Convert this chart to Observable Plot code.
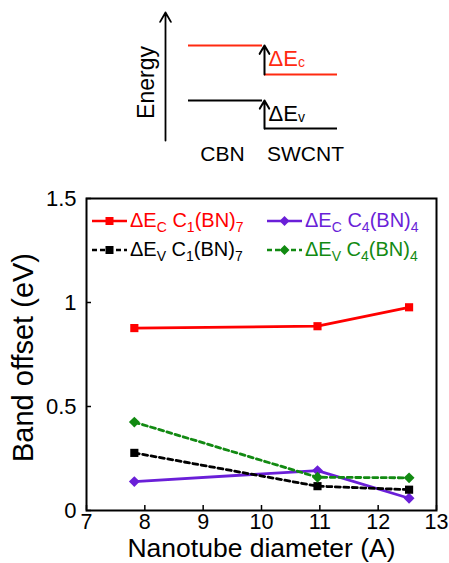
<!DOCTYPE html>
<html>
<head>
<meta charset="utf-8">
<script src="https://cdn.jsdelivr.net/npm/d3@7"></script>
<script src="https://cdn.jsdelivr.net/npm/@observablehq/plot@0.6"></script>
<style>
  html, body { margin: 0; padding: 0; background: #fff; }
  #wrap { position: relative; width: 449px; height: 563px; font-family: "Liberation Sans", Arial, sans-serif; }
  #wrap svg { display: block; }
  #legend { position: absolute; left: 92px; top: 206px; font-size: 20px; line-height: 29px; }
  .row { display: flex; align-items: center; height: 29px; white-space: nowrap; }
  .item { display: flex; align-items: center; }
  .item svg { display: inline-block; margin-right: 3px; }
  .item sub { font-size: 14px; vertical-align: -5px; line-height: 0; }
</style>
</head>
<body>
<div id="wrap"></div>
<script>
// ---- main chart data ----
const diameters = [7.82, 10.96, 12.53];
const dEcC1 = [0.877, 0.886, 0.977];
const dEcC4 = [0.139, 0.192, 0.059];
const dEvC1 = [0.277, 0.117, 0.100];
const dEvC4 = [0.425, 0.160, 0.157];
const xTicks = [7, 8, 9, 10, 11, 12, 13];
const yTicks = [0, 0.5, 1, 1.5];
const xLabel = "Nanotube diameter (A)";
const yLabel = "Band offset (eV)";

const seriesDefs = [
  {key: "EcC1", values: dEcC1, color: "#ff0000", dash: null, symbol: "square", band: "C", comp: ["1", "7"]},
  {key: "EcC4", values: dEcC4, color: "#6a1fd8", dash: null, symbol: "diamond2", band: "C", comp: ["4", "4"]},
  {key: "EvC1", values: dEvC1, color: "#000000", dash: "5,3.5", symbol: "square", band: "V", comp: ["1", "7"]},
  {key: "EvC4", values: dEvC4, color: "#128a12", dash: "5,3.5", symbol: "diamond2", band: "V", comp: ["4", "4"]}
];

// ---- inset (energy diagram) data ----
const insetLevels = [
  {side: "CBN", band: "c", x1: 188, x2: 262, e: 95},
  {side: "SWCNT", band: "c", x1: 264, x2: 337, e: 66},
  {side: "CBN", band: "v", x1: 188, x2: 262, e: 40},
  {side: "SWCNT", band: "v", x1: 264, x2: 337, e: 12}
];
const insetLabels = [{text: "CBN", x: 222}, {text: "SWCNT", x: 305}];
const bandColor = {c: "#ff2a10", v: "#000000"};

const font = '"Liberation Sans", Arial, sans-serif';
const wrap = document.getElementById("wrap");

// Inset plot
const cb = insetLevels.filter(d => d.band === "c");
const vb = insetLevels.filter(d => d.band === "v");
const offsets = [
  {x: 264, from: cb[1].e, to: cb[0].e, band: "c", label: "ΔE|c"},
  {x: 264, from: vb[1].e, to: vb[0].e, band: "v", label: "ΔE|v"}
];
const inset = Plot.plot({
  width: 449, height: 170,
  marginTop: 0, marginBottom: 0, marginLeft: 0, marginRight: 0,
  style: {fontFamily: font, background: "transparent"},
  x: {domain: [0, 449], axis: null},
  y: {domain: [0, 128], range: [140, 12], axis: null},
  marks: [
    Plot.arrow([0], {x1: 165, x2: 165, y1: 0, y2: 128, stroke: "#000", strokeWidth: 1.8, headLength: 9, bend: 0}),
    Plot.text(["Energy"], {x: 146, y: 58, rotate: -90, fontSize: 23, fill: "#000", textAnchor: "middle"}),
    Plot.ruleY(insetLevels, {x1: "x1", x2: "x2", y: "e", stroke: d => bandColor[d.band], strokeWidth: 1.8}),
    Plot.arrow(offsets, {x1: "x", x2: "x", y1: "from", y2: "to", stroke: "#000", strokeWidth: 2, headLength: 8, bend: 0, insetEnd: 0}),
    Plot.text(offsets, {x: d => d.x + 4, y: d => d.to - 20, text: "label", fill: d => bandColor[d.band], fontSize: 22, textAnchor: "start", lineAnchor: "bottom"}),
    Plot.text(insetLabels, {x: "x", y: -20, text: "text", fontSize: 21, fill: "#000", lineAnchor: "bottom"})
  ]
});
// subscripts in inset labels
inset.querySelectorAll("text").forEach(t => {
  const s = t.textContent;
  if (s.includes("|")) {
    const [a, b] = s.split("|");
    t.textContent = "";
    const ns = "http://www.w3.org/2000/svg";
    const t1 = document.createElementNS(ns, "tspan"); t1.textContent = a;
    const t2 = document.createElementNS(ns, "tspan"); t2.textContent = b;
    t2.setAttribute("font-size", "14"); t2.setAttribute("dy", "1");
    t.appendChild(t1); t.appendChild(t2);
  }
});
wrap.appendChild(inset);

// Main plot
const rows = seriesDefs.flatMap(s => diameters.map((d, i) => ({key: s.key, x: d, y: s.values[i]})));
const marks = [];
for (const s of seriesDefs) {
  const data = rows.filter(r => r.key === s.key);
  marks.push(Plot.line(data, {x: "x", y: "y", stroke: s.color, strokeWidth: 2.8, strokeDasharray: s.dash}));
}
for (const s of seriesDefs) {
  const data = rows.filter(r => r.key === s.key);
  marks.push(Plot.dot(data, {x: "x", y: "y", fill: s.color, stroke: "none", symbol: s.symbol, r: s.symbol === "square" ? 4.6 : 4.9}));
}
const main = Plot.plot({
  width: 449, height: 393,
  marginTop: 28, marginBottom: 53, marginLeft: 86, marginRight: 13,
  style: {fontFamily: font, background: "transparent", color: "#000"},
  x: {domain: [7, 13]},
  y: {domain: [0, 1.5]},
  marks: [
    ...marks,
    Plot.axisX({ticks: xTicks, tickSize: -5, tickPadding: 8, fontSize: 21.5, label: null, tickFormat: d => String(d), strokeWidth: 1.5}),
    Plot.axisY({ticks: yTicks, tickSize: -5, tickPadding: 15, fontSize: 22, label: null, tickFormat: d => String(d), strokeWidth: 1.5}),
    Plot.text([xLabel], {frameAnchor: "bottom", dy: 28, lineAnchor: "top", textAnchor: "middle", fontSize: 26.5, fill: "#000"}),
    Plot.text([yLabel], {frameAnchor: "left", dx: -63, dy: 3, rotate: -90, textAnchor: "middle", fontSize: 29, fill: "#000"}),
    Plot.frame({stroke: "#000", strokeWidth: 2})
  ]
});
wrap.appendChild(main);

// Legend (HTML overlay)
const legend = document.createElement("div");
legend.id = "legend";
function sample(s) {
  const w = 35, h = 14, cy = h / 2;
  const dash = s.dash ? `stroke-dasharray="5,3"` : "";
  const marker = s.symbol === "square"
    ? `<rect x="${w/2 - 4}" y="${cy - 4}" width="8" height="8" fill="${s.color}"/>`
    : `<path d="M${w/2},${cy - 5}L${w/2 + 5},${cy}L${w/2},${cy + 5}L${w/2 - 5},${cy}Z" fill="${s.color}"/>`;
  return `<svg width="${w}" height="${h}"><line x1="0" x2="${w}" y1="${cy}" y2="${cy}" stroke="${s.color}" stroke-width="2.6" ${dash}/>${marker}</svg>`;
}
function label(s) {
  return `<span style="color:${s.color}">ΔE<sub>${s.band}</sub> C<sub>${s.comp[0]}</sub>(BN)<sub>${s.comp[1]}</sub></span>`;
}
const order = [[seriesDefs[0], seriesDefs[1]], [seriesDefs[2], seriesDefs[3]]];
legend.innerHTML = order.map(pair =>
  `<div class="row">${pair.map((s, j) => `<div class="item" style="width:${j === 0 ? 175 : 'auto'}px">${sample(s)}${label(s)}</div>`).join("")}</div>`
).join("");
wrap.appendChild(legend);
</script>
</body>
</html>
